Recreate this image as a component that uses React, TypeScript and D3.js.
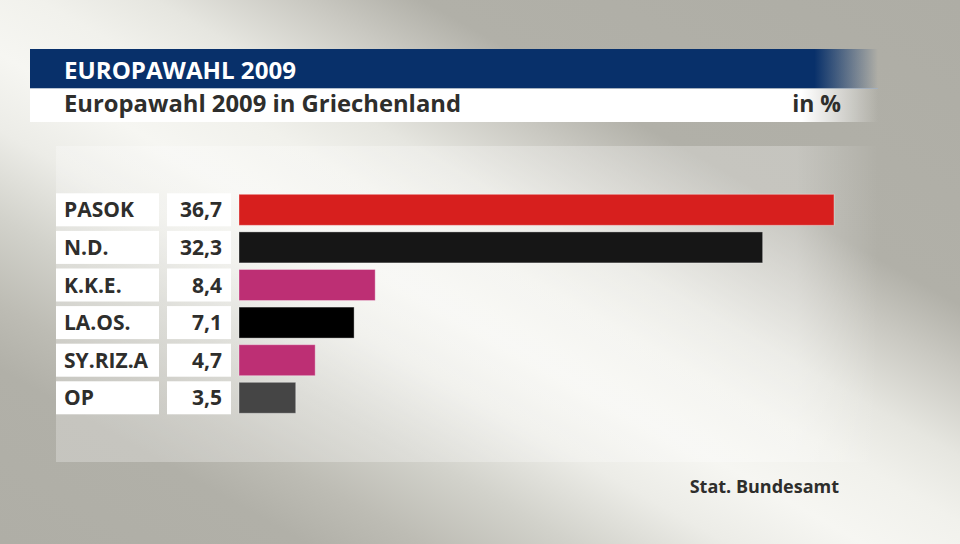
import React from 'react';
import * as d3 from 'd3';

const PARTIES = ['PASOK', 'N.D.', 'K.K.E.', 'LA.OS.', 'SY.RIZ.A', 'OP'];
const VALUES = [36.7, 32.3, 8.4, 7.1, 4.7, 3.5];
const VALUE_LABELS = ['36,7', '32,3', '8,4', '7,1', '4,7', '3,5'];
const COLORS = ['#d71f1e', '#161616', '#bd2f74', '#000000', '#bd2f74', '#454545'];

const W = 960;
const H = 544;
const FONT = '"Open Sans", Lato, sans-serif';
const TEXT = '#2e2e2c';

export default function App() {
  const y = d3
    .scaleBand<string>()
    .domain(PARTIES)
    .range([193.3, 414.3])
    .paddingInner(0.122)
    .paddingOuter(0);

  const x = d3.scaleLinear().domain([0, 36.7]).range([239, 834]);

  const rows = PARTIES.map((p, i) => ({
    party: p,
    value: VALUES[i],
    label: VALUE_LABELS[i],
    color: COLORS[i],
  }));

  // background stops along the bottom-left -> top-right direction
  const bgStops: [number, string][] = [
    [0, '#afaea6'],
    [0.16, '#b1b0a8'],
    [0.22, '#bdbcb4'],
    [0.3, '#d2d2cb'],
    [0.38, '#ecece7'],
    [0.45, '#f6f6f2'],
    [0.52, '#f1f1ec'],
    [0.58, '#e6e6e0'],
    [0.66, '#c9c8c1'],
    [0.72, '#b1b0a8'],
    [1, '#aeada5'],
  ];

  return (
    <svg
      width={W}
      height={H}
      viewBox={`0 0 ${W} ${H}`}
      style={{ position: 'absolute', left: 0, top: 0, display: 'block' }}
    >
      <defs>
        <linearGradient id="bg" x1="0" y1="1" x2="1" y2="0">
          {bgStops.map(([o, c]) => (
            <stop key={o} offset={o} stopColor={c} />
          ))}
        </linearGradient>
        <linearGradient id="fadeBlue" x1="0" y1="0" x2="1" y2="0">
          <stop offset="0" stopColor="#08306a" />
          <stop offset="0.925" stopColor="#08306a" />
          <stop offset="1" stopColor="#08306a" stopOpacity="0" />
        </linearGradient>
        <linearGradient id="fadeWhite" x1="0" y1="0" x2="1" y2="0">
          <stop offset="0" stopColor="#ffffff" />
          <stop offset="0.91" stopColor="#ffffff" />
          <stop offset="1" stopColor="#ffffff" stopOpacity="0" />
        </linearGradient>
        <linearGradient id="fadePanel" x1="0" y1="0" x2="1" y2="0">
          <stop offset="0" stopColor="#ffffff" stopOpacity="0.27" />
          <stop offset="0.9" stopColor="#ffffff" stopOpacity="0.27" />
          <stop offset="1" stopColor="#ffffff" stopOpacity="0" />
        </linearGradient>
      </defs>

      {/* background */}
      <rect x={0} y={0} width={W} height={H} fill="url(#bg)" />

      {/* header */}
      <rect x={30} y={49} width={848} height={39} fill="url(#fadeBlue)" />
      <rect x={30} y={88} width={848} height={1} fill="#9fb0c8" opacity={0.7} />
      <rect x={30} y={89} width={848} height={33} fill="url(#fadeWhite)" />
      <text x={64} y={79} fill="#ffffff" fontFamily={FONT} fontWeight={700} fontSize={23}
        textLength={232} lengthAdjust="spacingAndGlyphs">
        EUROPAWAHL 2009
      </text>
      <text x={64} y={112} fill={TEXT} fontFamily={FONT} fontWeight={700} fontSize={23}
        textLength={397} lengthAdjust="spacingAndGlyphs">
        Europawahl 2009 in Griechenland
      </text>
      <text x={841} y={112} fill={TEXT} fontFamily={FONT} fontWeight={700} fontSize={23} textAnchor="end">
        in %
      </text>

      {/* chart panel */}
      <rect x={56} y={146} width={822} height={316} fill="url(#fadePanel)" />

      {rows.map((d) => {
        const y0 = y(d.party) ?? 0;
        const bh = y.bandwidth();
        const cy = y0 + bh / 2;
        return (
          <g key={d.party}>
            <rect x={56} y={y0} width={103} height={bh} fill="#ffffff" />
            <rect x={167} y={y0} width={64} height={bh} fill="#ffffff" />
            <rect
              x={x(0)}
              y={y0 + 1}
              width={x(d.value) - x(0)}
              height={bh - 2}
              fill={d.color}
              stroke="#ffffff"
              strokeOpacity={0.35}
              strokeWidth={1}
            />
            <text x={64} y={cy + 7.5} fill={TEXT} fontFamily={FONT} fontWeight={700} fontSize={21}>
              {d.party}
            </text>
            <text
              x={222}
              y={cy + 7.5}
              fill={TEXT}
              fontFamily={FONT}
              fontWeight={700}
              fontSize={21}
              textAnchor="end"
            >
              {d.label}
            </text>
          </g>
        );
      })}

      <text x={839} y={493} fill={TEXT} fontFamily={FONT} fontWeight={700} fontSize={18} textAnchor="end">
        Stat. Bundesamt
      </text>
    </svg>
  );
}
